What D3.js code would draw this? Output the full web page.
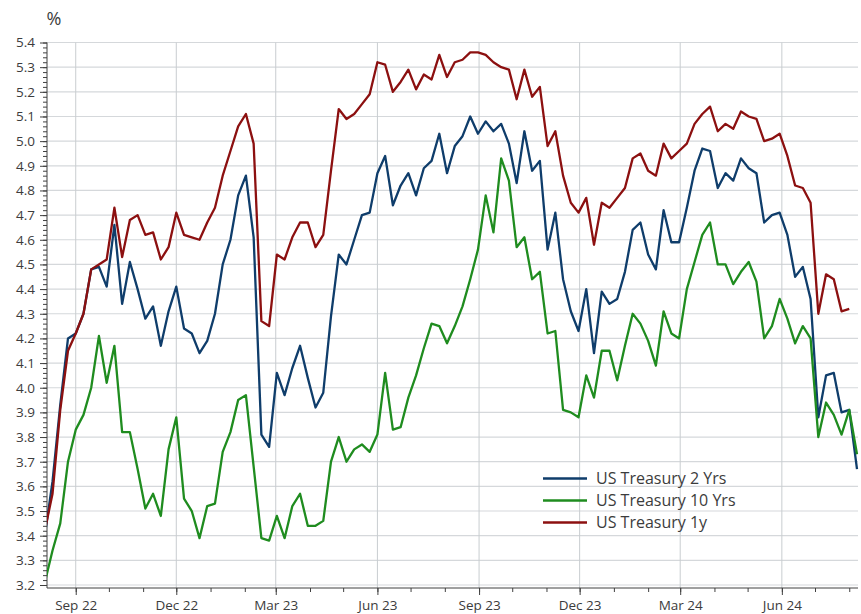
<!DOCTYPE html>
<html>
<head>
<meta charset="utf-8">
<script src="https://cdn.jsdelivr.net/npm/d3@7"></script>
<style>
  body { margin: 0; background: #fff; }
  svg { display: block; font-family: "Open Sans", sans-serif; }
</style>
</head>
<body>
<svg width="861" height="614"></svg>
<script>
// weekly observations, Thursdays Aug 2022 - Aug 2024
const weeks = d3.timeThursday.range(new Date(2022, 7, 4), new Date(2024, 7, 9));

const ust2y = [3.40, 3.62, 3.93, 4.20, 4.22, 4.30, 4.48, 4.49, 4.41, 4.66,
  4.34, 4.51, 4.40, 4.28, 4.33, 4.17, 4.31, 4.41, 4.24, 4.22,
  4.14, 4.19, 4.30, 4.50, 4.60, 4.78, 4.86, 4.61, 3.81, 3.76,
  4.06, 3.97, 4.08, 4.17, 4.04, 3.92, 3.98, 4.29, 4.54, 4.50,
  4.60, 4.70, 4.71, 4.87, 4.94, 4.74, 4.82, 4.87, 4.78, 4.89,
  4.92, 5.03, 4.87, 4.98, 5.02, 5.10, 5.03, 5.08, 5.04, 5.07,
  4.99, 4.83, 5.04, 4.88, 4.92, 4.56, 4.71, 4.44, 4.31, 4.23,
  4.40, 4.14, 4.39, 4.34, 4.36, 4.47, 4.64, 4.67, 4.54, 4.48,
  4.72, 4.59, 4.59, 4.73, 4.88, 4.97, 4.96, 4.81, 4.87, 4.84,
  4.93, 4.89, 4.87, 4.67, 4.70, 4.71, 4.62, 4.45, 4.49, 4.36,
  3.88, 4.05, 4.06, 3.90, 3.91, 3.67];

const ust10y = [3.21, 3.34, 3.45, 3.70, 3.83, 3.89, 4.00, 4.21, 4.02, 4.17,
  3.82, 3.82, 3.67, 3.51, 3.57, 3.48, 3.75, 3.88, 3.55, 3.50,
  3.39, 3.52, 3.53, 3.74, 3.82, 3.95, 3.97, 3.68, 3.39, 3.38,
  3.48, 3.39, 3.52, 3.57, 3.44, 3.44, 3.46, 3.70, 3.80, 3.70,
  3.75, 3.77, 3.74, 3.81, 4.06, 3.83, 3.84, 3.96, 4.05, 4.16,
  4.26, 4.25, 4.18, 4.25, 4.33, 4.44, 4.56, 4.78, 4.63, 4.93,
  4.84, 4.57, 4.61, 4.44, 4.47, 4.22, 4.23, 3.91, 3.90, 3.88,
  4.05, 3.96, 4.15, 4.15, 4.03, 4.17, 4.30, 4.26, 4.19, 4.09,
  4.31, 4.22, 4.20, 4.40, 4.51, 4.62, 4.67, 4.50, 4.50, 4.42,
  4.47, 4.51, 4.43, 4.20, 4.25, 4.36, 4.28, 4.18, 4.25, 4.20,
  3.80, 3.94, 3.89, 3.81, 3.91, 3.73];

const ust1y = [3.42, 3.57, 3.91, 4.15, 4.22, 4.30, 4.48, 4.50, 4.52, 4.73,
  4.53, 4.68, 4.70, 4.62, 4.63, 4.52, 4.57, 4.71, 4.62, 4.61,
  4.60, 4.67, 4.73, 4.86, 4.96, 5.06, 5.11, 4.99, 4.27, 4.25,
  4.54, 4.52, 4.61, 4.67, 4.67, 4.57, 4.62, 4.88, 5.13, 5.09,
  5.11, 5.15, 5.19, 5.32, 5.31, 5.20, 5.24, 5.29, 5.21, 5.27,
  5.25, 5.35, 5.26, 5.32, 5.33, 5.36, 5.36, 5.35, 5.32, 5.30,
  5.29, 5.17, 5.29, 5.18, 5.22, 4.98, 5.04, 4.86, 4.75, 4.71,
  4.77, 4.58, 4.75, 4.73, 4.77, 4.81, 4.93, 4.95, 4.88, 4.86,
  4.99, 4.93, 4.96, 4.99, 5.07, 5.11, 5.14, 5.04, 5.07, 5.05,
  5.12, 5.10, 5.09, 5.00, 5.01, 5.03, 4.94, 4.82, 4.81, 4.75,
  4.30, 4.46, 4.44, 4.31, 4.32, null];

const seriesNames = ["US Treasury 2 Yrs", "US Treasury 10 Yrs", "US Treasury 1y"];
const seriesColors = ["#0f3d6b", "#1f8c1f", "#8c1010"];
const seriesValues = [ust2y, ust10y, ust1y];

const svg = d3.select("svg");
const plotLeft = 47, plotRight = 858, plotTop = 42.5, plotBottom = 588;

const x = d3.scaleTime()
  .domain([new Date(2022, 7, 6), new Date(2024, 7, 8)])
  .range([plotLeft, 857]);
const y = d3.scaleLinear().domain([3.2, 5.4]).range([585, plotTop]);

const quarterTicks = d3.timeMonth.range(new Date(2022, 8, 1), new Date(2024, 7, 9))
  .filter(d => d.getMonth() % 3 === 2);
const monthTicks = d3.timeMonth.range(new Date(2022, 8, 1), new Date(2024, 7, 9));
const yMajor = y.ticks(22);
const yMinor = d3.range(160, 271).map(v => v / 50);

// gridlines
svg.append("g")
  .selectAll("line")
  .data(yMajor)
  .join("line")
  .attr("x1", plotLeft).attr("x2", plotRight)
  .attr("y1", d => y(d)).attr("y2", d => y(d))
  .attr("stroke", "#d5d8db").attr("stroke-width", 1.2);

svg.append("g")
  .selectAll("line")
  .data(quarterTicks)
  .join("line")
  .attr("x1", d => x(d)).attr("x2", d => x(d))
  .attr("y1", plotTop).attr("y2", plotBottom)
  .attr("stroke", "#c9cdd0").attr("stroke-width", 1);

// axes
const axisColor = "#404040";
const yMinorAxis = svg.append("g")
  .attr("transform", `translate(${plotLeft},0)`)
  .call(d3.axisLeft(y).tickValues(yMinor).tickSize(4).tickFormat(""));
const yAxis = svg.append("g")
  .attr("transform", `translate(${plotLeft},0)`)
  .call(d3.axisLeft(y).tickValues(yMajor).tickSize(7).tickPadding(5).tickFormat(d3.format(".1f")));
yAxis.select(".domain").attr("d", `M0,${plotTop}V${plotBottom}`);
yMinorAxis.select(".domain").remove();

const xMinorAxis = svg.append("g")
  .attr("transform", `translate(0,${plotBottom})`)
  .call(d3.axisBottom(x).tickValues(monthTicks).tickSize(4).tickFormat(""));
const xAxis = svg.append("g")
  .attr("transform", `translate(0,${plotBottom})`)
  .call(d3.axisBottom(x).tickValues(quarterTicks).tickSize(7).tickPadding(5).tickFormat(d3.timeFormat("%b %y")));
xAxis.select(".domain").attr("d", `M${plotLeft},0H${plotRight}`);
xMinorAxis.select(".domain").remove();

svg.selectAll(".tick line, .domain").attr("stroke", axisColor);
svg.selectAll(".tick text").attr("fill", "#3c3c3c").attr("font-size", 13.5)
  .attr("font-family", "'Open Sans', sans-serif");

svg.append("text")
  .attr("x", 54).attr("y", 25)
  .attr("text-anchor", "middle")
  .attr("fill", "#3c3c3c").attr("font-size", 18)
  .text("%");

// series
svg.append("clipPath").attr("id", "plot")
  .append("rect").attr("x", plotLeft).attr("y", plotTop - 5)
  .attr("width", plotRight - plotLeft + 3).attr("height", plotBottom - plotTop + 5);

const line = d3.line()
  .defined(d => d.v != null)
  .x(d => x(d.date))
  .y(d => y(d.v));

svg.append("g")
  .attr("clip-path", "url(#plot)")
  .selectAll("path")
  .data(seriesValues.map((vals, k) => ({k, pts: vals.map((v, i) => ({date: weeks[i], v}))})))
  .join("path")
  .attr("fill", "none")
  .attr("stroke", d => seriesColors[d.k])
  .attr("stroke-width", 2.3)
  .attr("stroke-linejoin", "round")
  .attr("d", d => line(d.pts));

// legend
const legend = svg.append("g")
  .selectAll("g")
  .data(seriesNames)
  .join("g")
  .attr("transform", (d, i) => `translate(543,${478.5 + i * 22})`);
legend.append("line")
  .attr("x1", 0).attr("x2", 44)
  .attr("stroke", (d, i) => seriesColors[i])
  .attr("stroke-width", 2.3);
legend.append("text")
  .attr("x", 53).attr("dy", "0.35em")
  .attr("fill", "#3c3c3c").attr("font-size", 16)
  .text(d => d);
</script>
</body>
</html>
